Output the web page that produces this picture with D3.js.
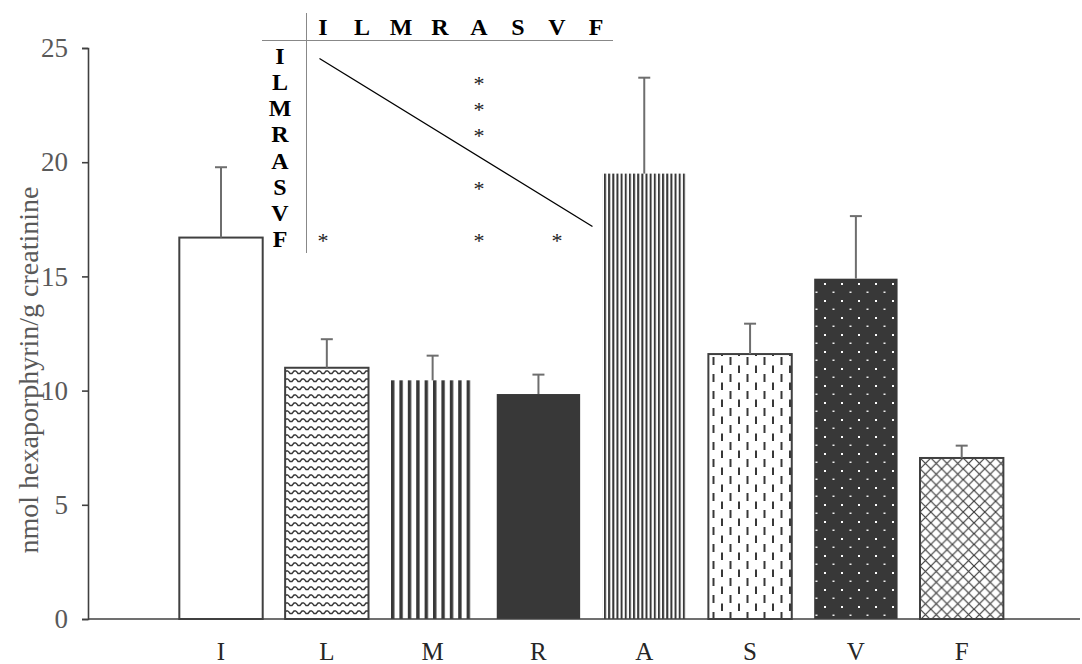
<!DOCTYPE html>
<html><head><meta charset="utf-8">
<script src="https://cdn.jsdelivr.net/npm/d3@7"></script>
<style>body{margin:0;background:#fff}svg{display:block}</style>
</head><body>
<script>
const categories = ["I","L","M","R","A","S","V","F"];
const means = [16.7, 11.0, 10.45, 9.85, 19.5, 11.6, 14.9, 7.05];
const sems = [3.08, 1.25, 1.08, 0.85, 4.2, 1.33, 2.74, 0.54];
const yTicks = [0, 5, 10, 15, 20, 25];
const yTitle = "nmol hexaporphyrin/g creatinine";
const fills = ["white","wave","vstripe","solid","fine","dash","dots","cross"];
const tableLetters = ["I","L","M","R","A","S","V","F"];
const sigRows = ["L","M","R","S","F","F","F"];
const sigCols = ["A","A","A","A","I","A","V"];

const W = 1082, H = 664;
const svg = d3.select("body").append("svg").attr("width", W).attr("height", H);
const defs = svg.append("defs");
const dark = "#383838";

// patterns
let p = defs.append("pattern").attr("id","wave").attr("patternUnits","userSpaceOnUse").attr("width",8).attr("height",8);
p.append("rect").attr("width",8).attr("height",8).attr("fill","#fff");
p.append("path").attr("d","M0,3 L2,5.5 L4,5.5 L6,3 L8,3").attr("stroke",dark).attr("stroke-width",1.4).attr("fill","none");

p = defs.append("pattern").attr("id","vstripe").attr("patternUnits","userSpaceOnUse").attr("width",8.4).attr("height",8).attr("x",391);
p.append("rect").attr("width",8.4).attr("height",8).attr("fill","#fff");
p.append("rect").attr("width",3.4).attr("height",8).attr("fill",dark);

p = defs.append("pattern").attr("id","solid").attr("patternUnits","userSpaceOnUse").attr("width",8).attr("height",8);
p.append("rect").attr("width",8).attr("height",8).attr("fill",dark);

p = defs.append("pattern").attr("id","fine").attr("patternUnits","userSpaceOnUse").attr("width",4.15).attr("height",8).attr("x",604);
p.append("rect").attr("width",4.15).attr("height",8).attr("fill","#fff");
p.append("rect").attr("width",2).attr("height",8).attr("fill",dark);

p = defs.append("pattern").attr("id","dash").attr("patternUnits","userSpaceOnUse").attr("width",17).attr("height",17).attr("x",709).attr("y",356);
p.append("rect").attr("width",17).attr("height",17).attr("fill","#fff");
p.append("rect").attr("x",3.5).attr("y",1).attr("width",2).attr("height",8).attr("fill",dark);
p.append("rect").attr("x",12).attr("y",9.5).attr("width",2).attr("height",8).attr("fill",dark);

p = defs.append("pattern").attr("id","dots").attr("patternUnits","userSpaceOnUse").attr("width",17).attr("height",17).attr("x",814).attr("y",280);
p.append("rect").attr("width",17).attr("height",17).attr("fill",dark);
p.append("rect").attr("x",10).attr("y",3).attr("width",2).attr("height",2).attr("fill","#fff");
p.append("rect").attr("x",1.5).attr("y",11.5).attr("width",2).attr("height",1.5).attr("fill","#eee");

p = defs.append("pattern").attr("id","cross").attr("patternUnits","userSpaceOnUse").attr("width",10.8).attr("height",10.8).attr("x",920).attr("y",458);
p.append("rect").attr("width",10.8).attr("height",10.8).attr("fill","#fff");
p.append("path").attr("d","M0,0 L10.8,10.8 M10.8,0 L0,10.8").attr("stroke","#3c3c3c").attr("stroke-width",1.2);

// scales
const x = d3.scaleBand().domain(categories).range([168.1, 1014.6]).paddingInner(0.212).paddingOuter(0.106);
const y = d3.scaleLinear().domain([0, 25]).range([619, 48]);

// bars
const outlined = {white:1, wave:1, dash:1, cross:1};
const g = svg.append("g");
categories.forEach((c, i) => {
  const f = fills[i];
  g.append("rect")
    .attr("x", x(c)).attr("y", y(means[i]))
    .attr("width", x.bandwidth()).attr("height", y(0) - y(means[i]))
    .attr("fill", f === "white" ? "#fff" : `url(#${f})`)
    .attr("stroke", outlined[f] ? "#404040" : "none")
    .attr("stroke-width", 2);
});

// error bars
categories.forEach((c, i) => {
  const cx = x(c) + x.bandwidth() / 2;
  const top = y(means[i] + sems[i]);
  g.append("line").attr("x1", cx).attr("x2", cx).attr("y1", y(means[i])).attr("y2", top)
    .attr("stroke", "#6e6e6e").attr("stroke-width", 2);
  g.append("line").attr("x1", cx - 6).attr("x2", cx + 6).attr("y1", top).attr("y2", top)
    .attr("stroke", "#6e6e6e").attr("stroke-width", 2);
});

// y axis
const ya = svg.append("g").attr("transform", "translate(88,0)")
  .call(d3.axisLeft(y).tickValues(yTicks).tickSize(6).tickPadding(14));
ya.selectAll("path,line").attr("stroke", "#404040").attr("stroke-width", 1.6);
ya.selectAll("text").attr("font-family", "Liberation Serif").attr("font-size", 27).attr("fill", "#595959");

// x axis line
svg.append("line").attr("x1", 88).attr("x2", 1080).attr("y1", y(0)).attr("y2", y(0))
  .attr("stroke", "#404040").attr("stroke-width", 1.6);
svg.append("g").selectAll("text").data(categories).join("text")
  .attr("x", d => x(d) + x.bandwidth() / 2).attr("y", 660)
  .attr("text-anchor", "middle").attr("font-family", "Liberation Serif").attr("font-size", 25)
  .attr("fill", "#262626").text(d => d);

// y title
svg.append("text").attr("transform", "translate(38,370) rotate(-90)")
  .attr("text-anchor", "middle").attr("font-family", "Liberation Serif").attr("font-size", 28)
  .attr("fill", "#595959").text(yTitle);

// inset significance table
const tc = d3.scalePoint().domain(tableLetters).range([323, 596]);
const tr = d3.scalePoint().domain(tableLetters).range([56, 239]);
const t = svg.append("g").attr("font-family", "Liberation Serif");
t.append("line").attr("x1", 262).attr("x2", 613).attr("y1", 40.5).attr("y2", 40.5).attr("stroke", "#888").attr("stroke-width", 1);
t.append("line").attr("x1", 306.5).attr("x2", 306.5).attr("y1", 13).attr("y2", 253).attr("stroke", "#888").attr("stroke-width", 1);
t.selectAll("text.h").data(tableLetters).join("text").attr("class", "h")
  .attr("x", d => tc(d)).attr("y", 35).attr("text-anchor", "middle")
  .attr("font-size", 24).attr("font-weight", "bold").attr("fill", "#000").text(d => d);
t.selectAll("text.r").data(tableLetters).join("text").attr("class", "r")
  .attr("x", 280).attr("y", d => tr(d) + 8).attr("text-anchor", "middle")
  .attr("font-size", 24).attr("font-weight", "bold").attr("fill", "#000").text(d => d);
t.append("line")
  .attr("x1", tc("I") - 3.5).attr("y1", tr("I") + 2.5)
  .attr("x2", tc("F") - 3.5).attr("y2", tr("F") - 12.5)
  .attr("stroke", "#000").attr("stroke-width", 1.3);
t.selectAll("text.s").data(sigRows).join("text").attr("class", "s")
  .attr("x", (d, i) => tc(sigCols[i])).attr("y", d => tr(d) + 9)
  .attr("text-anchor", "middle").attr("font-size", 22).attr("fill", "#222").text("*");
</script>
</body></html>
